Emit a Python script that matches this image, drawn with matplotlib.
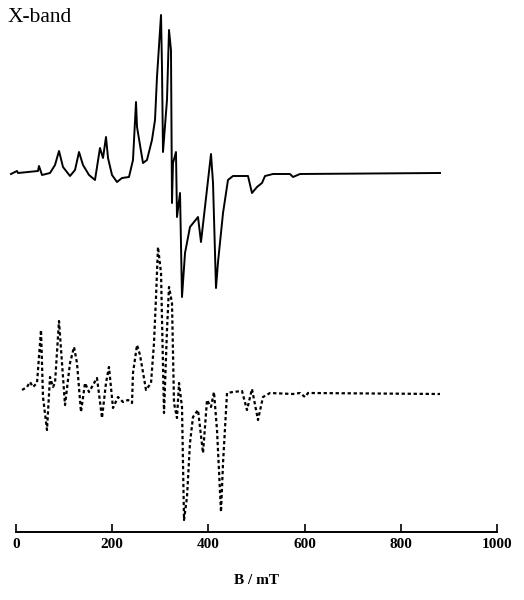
import matplotlib
matplotlib.use('Agg')
import matplotlib.pyplot as plt

# upper trace (solid), field in mT and intensity in arbitrary units
top_b = [-10.4, 2.1, 4.2, 45.7, 47.8, 54.1, 70.7, 81.1, 89.4, 97.7, 112.3, 122.7,
         131.0, 139.3, 151.8, 164.2, 174.6, 180.9, 187.1, 191.3, 199.6, 210.0,
         220.4, 234.9, 243.2, 249.5, 251.6, 264.0, 272.3, 282.7, 289.0, 293.1,
         301.5, 303.5, 305.6, 313.9, 318.1, 322.2, 324.3, 326.4, 332.6, 334.7,
         341.0, 345.1, 351.4, 361.7, 378.4, 384.6, 392.9, 405.4, 409.6, 415.8,
         420.0, 430.4, 440.7, 451.1, 469.9, 482.3, 490.6, 501.0, 511.4, 517.7,
         534.3, 569.6, 575.9, 590.4, 881.5]
top_i = [-0.1, 0.2, 0.0, 0.2, 0.7, -0.2, 0.0, 0.8, 2.2, 0.6, -0.3, 0.3,
         2.1, 0.8, -0.2, -0.7, 2.5, 1.5, 3.6, 1.5, -0.2, -0.9,
         -0.5, -0.4, 1.3, 7.1, 4.6, 1.0, 1.3, 3.3, 5.3, 9.6,
         15.8, 10.6, 2.1, 7.3, 14.3, 12.3, -3.0, 1.0, 2.1, -4.4,
         -2.0, -12.4, -8.0, -5.4, -4.4, -6.9, -3.4, 1.9, -1.0, -11.5,
         -8.9, -4.0, -0.7, -0.3, -0.3, -0.3, -2.0, -1.4, -1.0, -0.3,
         -0.1, -0.1, -0.4, -0.1, 0.0]

# lower trace (dotted)
low_b = [12.5, 22.9, 29.1, 35.3, 43.7, 52.0, 56.1, 64.4, 70.7, 76.9, 81.1, 89.4,
         95.6, 101.9, 112.3, 120.6, 126.8, 135.1, 143.5, 151.8, 168.4, 178.8,
         187.1, 193.3, 201.7, 212.1, 222.5, 232.8, 241.2, 243.2, 251.6, 257.8,
         270.3, 280.7, 286.9, 291.1, 295.2, 301.5, 307.7, 313.9, 318.1, 324.3,
         328.5, 334.7, 338.9, 345.1, 349.3, 355.5, 361.7, 368.0, 378.4, 388.8,
         397.1, 405.4, 411.6, 417.9, 426.2, 430.4, 438.7, 451.1, 469.9, 480.2,
         490.6, 503.1, 513.5, 528.1, 575.9, 590.4, 600.8, 607.1, 881.5]
low_i = [0.3, 0.6, 1.1, 0.6, 1.0, 6.3, -0.4, -3.7, 1.6, 0.6, 1.0, 7.2,
         3.0, -1.2, 3.0, 4.6, 3.0, -1.9, 1.0, 0.1, 1.5, -2.5,
         1.0, 2.6, -1.5, -0.4, -0.9, -0.7, -1.0, 2.0, 4.8, 3.8,
         0.3, 1.0, 5.0, 9.6, 14.6, 12.0, -2.0, 6.3, 10.6, 9.0,
         -1.0, -2.5, 1.0, -1.4, -12.7, -10.4, -5.0, -2.4, -1.7, -6.0,
         -0.7, -1.4, 0.1, -3.7, -11.9, -7.0, 0.0, 0.1, 0.2, -1.7,
         0.4, -2.7, -0.4, 0.0, -0.1, 0.0, -0.4, 0.0, -0.1]

ticks = [0, 200, 400, 600, 800, 1000]
top_offset = 35.9
low_offset = 13.9

plt.rcParams['font.family'] = ['Liberation Serif', 'DejaVu Serif']

fig = plt.figure(figsize=(5.24, 6.0), dpi=100)
ax = fig.add_axes([16 / 524, 1 - 532 / 600, 481 / 524, 522 / 600])

ax.plot(top_b, [v + top_offset for v in top_i], color='black', lw=1.4,
        clip_on=False)
ax.plot(low_b, [v + low_offset for v in low_i], color='black', lw=1.6,
        linestyle=(0, (1.5, 1.2)), clip_on=False)

ax.set_xlim(0, 1000)
ax.set_ylim(0, 52.2)
for side in ['top', 'left', 'right']:
    ax.spines[side].set_visible(False)
ax.spines['bottom'].set_linewidth(1.4)
ax.spines['bottom'].set_bounds(0, 1000)
ax.set_yticks([])
ax.set_xticks(ticks)
ax.set_xticklabels([str(t) for t in ticks], fontsize=11, fontweight='bold')
ax.tick_params(axis='x', direction='in', length=6, width=1.2, pad=4)
ax.set_xlabel('B / mT', fontsize=11, fontweight='bold', labelpad=17)

fig.text(8 / 524, 1 - 18 / 600, 'X-band', fontsize=15.5, va='center', ha='left')

fig.savefig('out.png', dpi=100)
